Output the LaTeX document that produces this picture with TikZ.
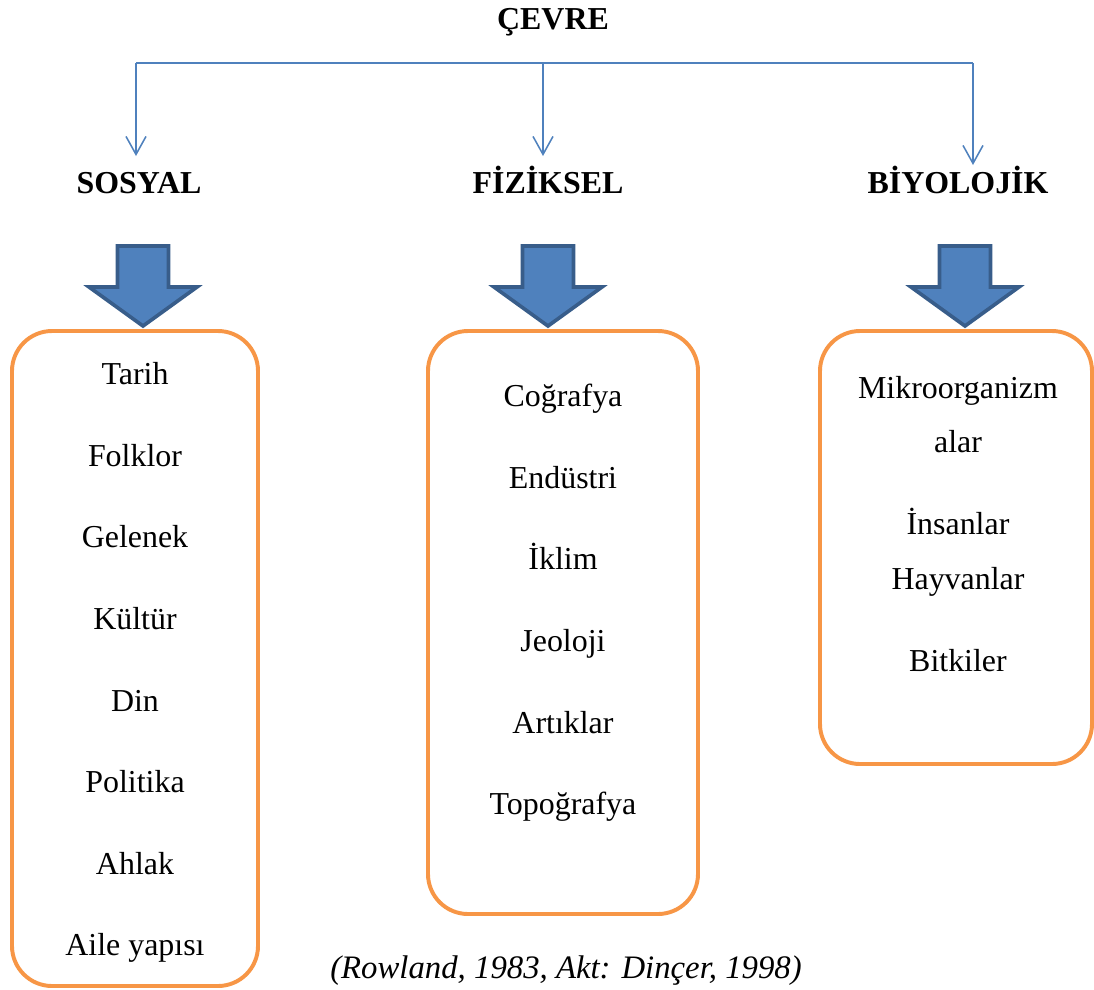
\documentclass[tikz,border=0pt]{standalone}
\usepackage{fontspec}
\setmainfont{Liberation Serif}
\usepackage{xcolor}
\definecolor{cvblue}{HTML}{4F81BD}
\definecolor{cvdark}{HTML}{385D8A}
\definecolor{cvorange}{HTML}{F79646}
\usepackage{tikz}
\usetikzlibrary{positioning,arrows.meta,calc}

\begin{document}
\begin{tikzpicture}[
  x=0.025cm, y=-0.025cm,
  head/.style={font=\fontsize{22.7}{27}\selectfont\bfseries, inner sep=0pt, anchor=base},
  item/.style={font=\fontsize{22.7}{27}\selectfont, inner sep=0pt},
  box/.style={draw=cvorange, line width=2.8pt, rounded corners=1cm},
  line/.style={cvblue, line width=1.1pt},
  arr/.style={line, -{Straight Barb[length=0.45cm, width=0.5cm, line width=1.1pt]}},
  blockarr/.pic={
    \draw[fill=cvblue, draw=cvdark, line width=2.6pt, line join=miter]
      (-25.5,0) -- (25.5,0) -- (25.5,41) -- (54,41) -- (0,80)
      -- (-54,41) -- (-25.5,41) -- cycle;
  },
]
  \useasboundingbox (0,0) rectangle (1094,989);

  % headings
  \node[head] (cevre) at (553,29) {ÇEVRE};
  \node[head] (sosyal) at (139,193) {SOSYAL};
  \node[head] (fiziksel) at (548,193) {FİZİKSEL};
  \node[head] (biyolojik) at (958,193) {BİYOLOJİK};

  % top connector
  \coordinate (barL) at (136,63);
  \coordinate (barM) at (543,63);
  \coordinate (barR) at (973,63);
  \coordinate (tipS) at (136,156);
  \coordinate (tipF) at (543,156);
  \coordinate (tipB) at (973,165);
  \draw[line] (barL) -- (barR);
  \draw[arr] (barL) -- (tipS);
  \draw[arr] (barM) -- (tipF);
  \draw[arr] (barR) -- (tipB);

  % boxes
  \draw[box] (12,331) rectangle (258,986);
  \draw[box] (428,331) rectangle (698,914);
  \draw[box] (820,331) rectangle (1092,764);

  % block arrows
  \pic at (143,246) {blockarr};
  \pic at (548,246) {blockarr};
  \pic at (965,246) {blockarr};

  % SOSYAL items
  \foreach \t [count=\i] in {Tarih,Folklor,Gelenek,Kültür,Din,Politika,Ahlak,Aile yapısı}
    \node[item] (s\i) at (135,{377+81.6*(\i-1)}) {\strut\t};

  % FİZİKSEL items
  \foreach \t [count=\i] in {Coğrafya,Endüstri,İklim,Jeoloji,Artıklar,Topoğrafya}
    \node[item] (f\i) at (563,{399+81.6*(\i-1)}) {\strut\t};

  % BİYOLOJİK items
  \node[item] (b1) at (958,391) {\strut Mikroorganizm};
  \node[item] (b2) at (958,445) {\strut alar};
  \node[item] (b3) at (958,527) {\strut İnsanlar};
  \node[item] (b4) at (958,582) {\strut Hayvanlar};
  \node[item] (b5) at (958,664) {\strut Bitkiler};

  % source
  \node[item, font=\fontsize{23.3}{27}\selectfont\itshape] (kaynak) at (566,971)
    {(Rowland, 1983, Akt: Dinçer, 1998)};
\end{tikzpicture}
\end{document}
